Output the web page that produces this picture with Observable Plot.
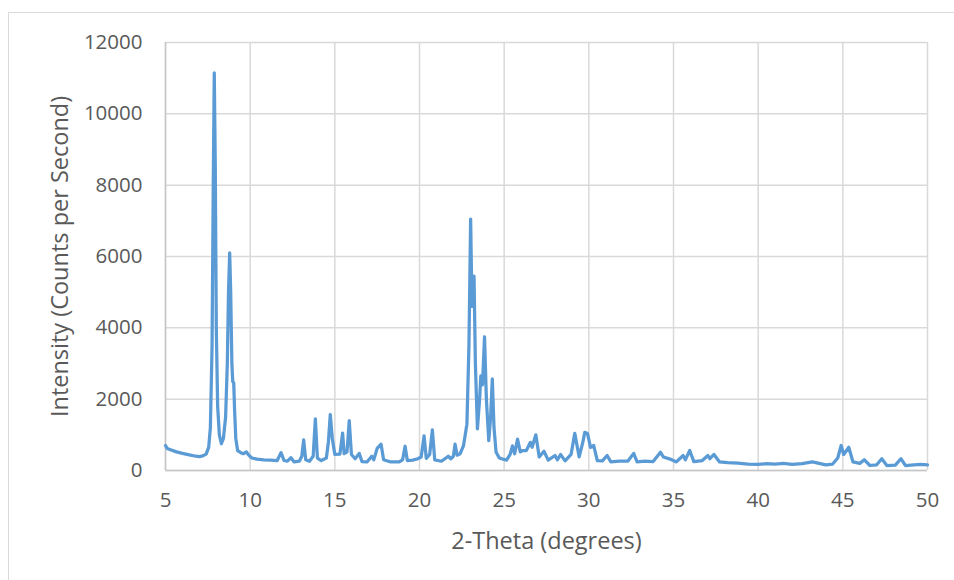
<!DOCTYPE html>
<html>
<head>
<meta charset="utf-8">
<script src="https://cdn.jsdelivr.net/npm/d3@7"></script>
<script src="https://cdn.jsdelivr.net/npm/@observablehq/plot@0.6"></script>
<style>
  html, body { margin: 0; padding: 0; background: #fff; }
  #wrap { position: relative; width: 954px; height: 580px; overflow: hidden; }
  #border { position: absolute; left: 8px; top: 12px; width: 980px; height: 600px; border: 1.5px solid #d9d9d9; box-sizing: border-box; pointer-events: none; }
</style>
</head>
<body>
<div id="wrap"><div id="border"></div></div>
<script>
const theta = [
  5.00, 5.10, 5.30, 5.60, 6.00, 6.40, 6.80, 7.00, 7.20, 7.40, 7.55, 7.65, 7.75, 7.82, 7.88, 7.94, 8.00, 8.08, 8.18, 8.30,
  8.42, 8.55, 8.65, 8.72, 8.79, 8.85, 8.92, 8.97, 9.03, 9.08, 9.15, 9.26, 9.45, 9.60, 9.78, 9.90, 10.10, 10.40, 10.80, 11.20,
  11.60, 11.82, 12.00, 12.20, 12.41, 12.60, 12.90, 13.05, 13.16, 13.28, 13.50, 13.72, 13.85, 13.97, 14.20, 14.50, 14.62, 14.73, 14.85, 15.00,
  15.30, 15.46, 15.55, 15.72, 15.85, 15.98, 16.20, 16.44, 16.60, 16.90, 17.18, 17.30, 17.50, 17.73, 17.88, 18.30, 18.80, 19.00, 19.15, 19.28,
  19.60, 19.90, 20.10, 20.27, 20.40, 20.60, 20.76, 20.90, 21.30, 21.70, 21.85, 22.00, 22.10, 22.22, 22.40, 22.60, 22.80, 22.92, 23.02, 23.10,
  23.16, 23.22, 23.30, 23.42, 23.55, 23.62, 23.72, 23.84, 23.95, 24.09, 24.20, 24.30, 24.40, 24.52, 24.70, 24.85, 25.14, 25.35, 25.49, 25.62,
  25.79, 25.95, 26.10, 26.31, 26.55, 26.65, 26.87, 27.07, 27.35, 27.60, 28.00, 28.15, 28.33, 28.60, 28.95, 29.17, 29.43, 29.65, 29.76, 29.92,
  30.10, 30.29, 30.50, 30.80, 31.08, 31.30, 31.80, 32.30, 32.65, 32.85, 33.30, 33.80, 34.23, 34.40, 34.80, 35.17, 35.57, 35.70, 35.96, 36.20,
  36.70, 37.03, 37.15, 37.39, 37.72, 38.20, 38.80, 39.40, 40.00, 40.50, 41.00, 41.50, 42.00, 42.60, 43.20, 43.60, 44.00, 44.40, 44.70, 44.90,
  45.05, 45.35, 45.60, 46.00, 46.27, 46.60, 47.00, 47.30, 47.60, 48.10, 48.43, 48.70, 49.20, 49.60, 50.00
];
const intensity = [
  700, 620, 580, 530, 480, 440, 400, 390, 410, 460, 650, 1200, 3500, 8000, 11150, 8500, 4000, 1800, 1000, 750,
  900, 1500, 3000, 5000, 6100, 5000, 3000, 2500, 2450, 1700, 900, 560, 500, 470, 520, 440, 350, 320, 300, 290,
  280, 500, 280, 260, 360, 240, 260, 400, 860, 300, 260, 400, 1450, 350, 280, 350, 800, 1570, 900, 450,
  460, 1050, 470, 520, 1400, 450, 330, 480, 250, 240, 400, 300, 620, 740, 300, 240, 240, 300, 680, 280,
  290, 330, 380, 970, 340, 450, 1140, 300, 260, 400, 330, 400, 740, 430, 470, 700, 1300, 3500, 7050, 4600,
  4800, 5450, 3000, 1170, 2000, 2650, 2400, 3750, 2000, 840, 1500, 2570, 1200, 520, 360, 330, 290, 450, 690, 470,
  880, 520, 560, 560, 790, 650, 1000, 380, 540, 290, 420, 300, 450, 270, 450, 1040, 380, 800, 1070, 1040,
  650, 700, 280, 270, 420, 240, 260, 260, 480, 240, 260, 250, 510, 380, 320, 240, 420, 300, 560, 250,
  280, 420, 330, 450, 240, 220, 210, 180, 170, 190, 180, 200, 170, 190, 240, 200, 160, 180, 350, 700,
  450, 650, 240, 200, 300, 140, 160, 330, 140, 150, 330, 140, 160, 170, 160
];
const xTicks = [5, 10, 15, 20, 25, 30, 35, 40, 45, 50];
const yTicks = [0, 2000, 4000, 6000, 8000, 10000, 12000];
const xTitle = "2-Theta (degrees)";
const yTitle = "Intensity (Counts per Second)";

const idx = d3.range(theta.length);
const textColor = "#595959";

const chart = Plot.plot({
  width: 954,
  height: 580,
  marginLeft: 165,
  marginRight: 27,
  marginTop: 42,
  marginBottom: 110,
  style: { fontFamily: "'Open Sans', sans-serif", fontSize: "20px", color: textColor, background: "transparent", overflow: "visible" },
  x: { domain: [5, 50] },
  y: { domain: [0, 12000] },
  marks: [
    Plot.gridX(xTicks, { stroke: "#d9d9d9", strokeOpacity: 1, strokeWidth: 1.5 }),
    Plot.gridY(yTicks, { stroke: "#d9d9d9", strokeOpacity: 1, strokeWidth: 1.5 }),
    Plot.ruleX([5], { stroke: "#c6c6c6", strokeWidth: 1.5 }),
    Plot.ruleY([0], { stroke: "#c6c6c6", strokeWidth: 1.5 }),
    Plot.axisX(xTicks, { tickSize: 0, tickPadding: 22, label: null, fontSize: 20.5, fill: textColor, tickFormat: d => String(d) }),
    Plot.axisY(yTicks, { tickSize: 0, tickPadding: 23, label: null, fontSize: 20.5, fill: textColor, tickFormat: d => String(d) }),
    Plot.line(idx, { x: i => theta[i], y: i => intensity[i], stroke: "#5B9BD5", strokeWidth: 3.25, strokeLinejoin: "round", strokeLinecap: "round" }),
    Plot.text([yTitle], { frameAnchor: "left", dx: -105, rotate: -90, textAnchor: "middle", lineAnchor: "middle", fontSize: 23.5, fill: textColor }),
    Plot.text([xTitle], { frameAnchor: "bottom", dy: 71, textAnchor: "middle", lineAnchor: "middle", fontSize: 23.5, fill: textColor })
  ]
});
chart.style.position = "absolute";
chart.style.left = "0px";
chart.style.top = "0px";
document.getElementById("wrap").prepend(chart);
</script>
</body>
</html>
